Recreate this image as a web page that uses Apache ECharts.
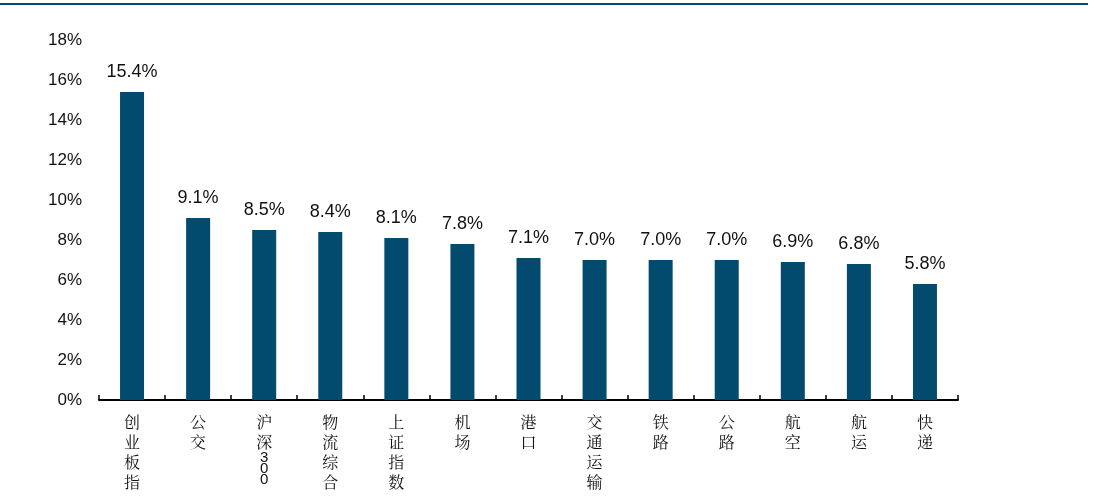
<!DOCTYPE html>
<html>
<head>
<meta charset="utf-8">
<script src="https://cdn.jsdelivr.net/npm/echarts@6/dist/echarts.min.js"></script>
<style>
  html, body { margin: 0; padding: 0; background: #fff; }
  #main { width: 1097px; height: 503px; }
</style>
</head>
<body>
<div id="main"></div>
<script>
var categories = ['创业板指', '公交', '沪深300', '物流综合', '上证指数', '机场', '港口', '交通运输', '铁路', '公路', '航空', '航运', '快递'];
var values = [15.4, 9.1, 8.5, 8.4, 8.1, 7.8, 7.1, 7.0, 7.0, 7.0, 6.9, 6.8, 5.8];
var yTicks = [0, 2, 4, 6, 8, 10, 12, 14, 16, 18];

var chartDom = document.getElementById('main');
var myChart = echarts.init(chartDom);

// stack the characters vertically, digits packed tighter
function verticalLabel(name) {
    var out = [];
    var chars = name.split('');
    for (var i = 0; i < chars.length; i++) {
        if (/[0-9]/.test(chars[i])) {
            out.push('{d|' + chars[i] + '}');
        } else {
            out.push('{c|' + chars[i] + '}');
        }
    }
    return out.join('\n');
}

var option = {
    animation: false,
    graphic: [
        {
            type: 'rect',
            shape: { x: 0, y: 3, width: 1088, height: 2 },
            style: { fill: '#024B6F' }
        }
    ],
    grid: {
        left: 99,
        right: 139,
        top: 40,
        bottom: 103
    },
    xAxis: {
        type: 'category',
        data: categories,
        axisLine: { lineStyle: { color: '#000', width: 2 } },
        axisTick: {
            show: true,
            inside: true,
            length: 5,
            alignWithLabel: false,
            lineStyle: { color: '#000', width: 1.5 }
        },
        axisLabel: {
            interval: 0,
            margin: 12,
            formatter: verticalLabel,
            rich: {
                c: {
                    fontFamily: 'Noto Serif CJK SC, Noto Sans CJK SC',
                    fontSize: 16,
                    lineHeight: 20,
                    color: '#111'
                },
                d: {
                    fontFamily: 'Liberation Sans',
                    fontSize: 15,
                    lineHeight: 11,
                    color: '#111'
                }
            }
        }
    },
    yAxis: {
        type: 'value',
        min: yTicks[0],
        max: yTicks[yTicks.length - 1],
        interval: yTicks[1] - yTicks[0],
        axisLine: { show: false },
        axisTick: { show: false },
        splitLine: { show: false },
        axisLabel: {
            margin: 17,
            fontFamily: 'Liberation Sans',
            fontSize: 17,
            color: '#111',
            formatter: function (v) { return v + '%'; }
        }
    },
    series: [
        {
            type: 'bar',
            data: values,
            barWidth: 24,
            itemStyle: { color: '#024B6F' },
            label: {
                show: true,
                position: 'top',
                distance: 11,
                fontFamily: 'Liberation Sans',
                fontSize: 18,
                color: '#111',
                formatter: function (p) { return p.value.toFixed(1) + '%'; }
            }
        }
    ]
};

option && myChart.setOption(option);
</script>
</body>
</html>
